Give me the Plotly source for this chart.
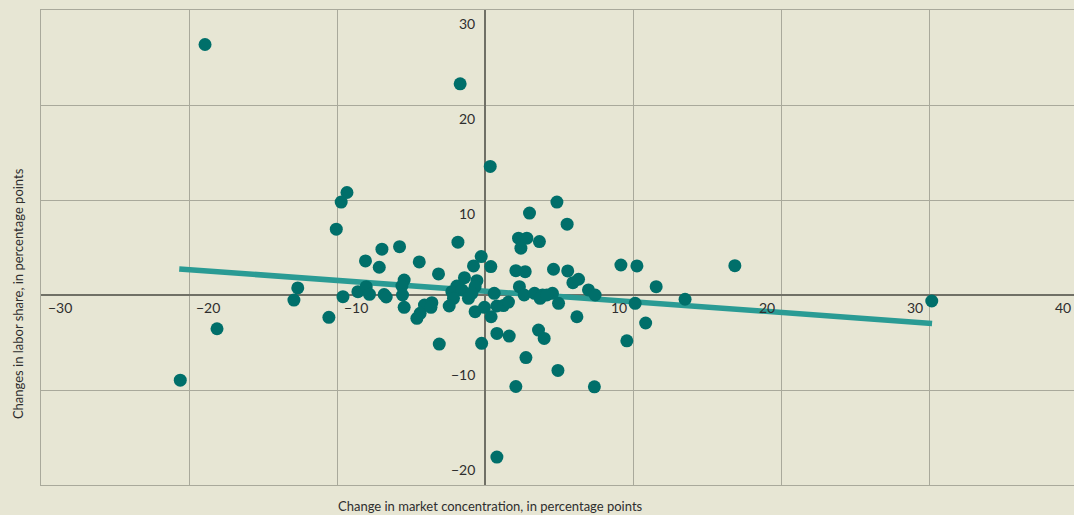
import plotly.graph_objects as go

# Change in market concentration (x) and change in labor share (y), percentage points
conc_change = [
    -18.93, -1.71, 0.32, -9.35, -9.74, -10.07, -20.60, -18.12, -12.67, -12.93,
    -10.57, -9.62, -8.10, -6.99, -5.80, -7.17, -4.47, -8.61, -8.05, -7.83,
    -6.84, -6.70, -5.49, -5.64, -5.60, -5.49, -4.12, -4.41, -4.63, -3.62,
    -3.68, -1.86, -0.29, -0.81, 0.36, -3.17, -1.42, -0.58, -1.93, -0.70,
    -2.27, -1.59, -0.92, -2.16, -1.15, -2.45, -0.70, -0.07, 0.38, 0.59,
    0.77, 1.21, 1.55, -3.12, -0.26, 0.77, 1.60, 2.73, 2.05, 4.89,
    3.58, 3.96, 2.97, 4.82, 5.51, 2.23, 2.79, 2.39, 3.64, 2.05,
    2.68, 4.59, 5.55, 5.90, 6.28, 2.29, 2.61, 3.31, 3.85, 3.69,
    4.52, 4.93, 4.14, 6.95, 7.40, 6.17, 9.14, 10.22, 11.52, 10.10,
    13.47, 10.81, 9.54, 7.35, 16.83, 30.12, 0.77,
]
labor_change = [
    26.37, 22.23, 13.53, 10.79, 9.78, 6.93, -8.97, -3.55, 0.74, -0.53,
    -2.35, -0.18, 3.59, 4.82, 5.09, 2.92, 3.48, 0.35, 0.88, 0.07,
    0.05, -0.21, 1.58, 0.95, 0.00, -1.30, -1.05, -1.93, -2.46, -0.81,
    -1.30, 5.56, 4.04, 3.06, 2.99, 2.22, 1.82, 1.51, 0.95, 0.88,
    0.35, 0.53, 0.18, -0.35, -0.35, -1.16, -1.76, -1.30, -2.29, 0.18,
    -1.16, -1.11, -0.74, -5.17, -5.09, -4.04, -4.32, -6.59, -9.63, -7.94,
    -3.69, -4.57, 8.62, 9.78, 7.46, 5.98, 5.98, 4.93, 5.62, 2.56,
    2.46, 2.71, 2.53, 1.30, 1.66, 0.88, 0.00, 0.18, 0.00, -0.35,
    0.18, -0.88, 0.00, 0.53, 0.00, -2.29, 3.16, 3.06, 0.88, -0.88,
    -0.45, -2.95, -4.82, -9.67, 3.09, -0.63, -17.06,
]

# Fitted trend line end points
trend_x = [-20.67, 30.14]
trend_y = [2.74, -2.99]

# Tick labels
x_ticks = [-30, -20, -10, 10, 20, 30, 40]
y_ticks = [-20, -10, 10, 20, 30]

X_MAX = 39.72

BG = "#e7e6d4"
GRID = "#a9a99b"
ZERO = "#707066"
DOT = "#006f6a"
TREND = "#2a9b94"
TXT = "#2e2e2e"
FONT = "Lato"

fig = go.Figure()
fig.add_trace(go.Scatter(
    x=trend_x, y=trend_y, mode="lines",
    line=dict(color=TREND, width=5.5), hoverinfo="skip", showlegend=False,
))
fig.add_trace(go.Scatter(
    x=conc_change, y=labor_change, mode="markers",
    marker=dict(color=DOT, size=13, line=dict(width=0)),
    showlegend=False,
))

def lab(v):
    return ("\u2212" + str(abs(v))) if v < 0 else str(v)

PX_PER_UNIT = 1033 / (X_MAX + 30)

annotations = []
for v in x_ticks:
    xv = min(v, X_MAX - 0.02)
    extra = (v - xv) * PX_PER_UNIT
    annotations.append(dict(
        x=xv, y=0, xref="x", yref="y", text=lab(v), showarrow=False,
        xanchor="left" if v < 0 else "right", yanchor="top",
        xshift=(5 if v < 0 else -5) + extra, yshift=-2,
        font=dict(family=FONT, size=14, color=TXT),
    ))
for v in y_ticks:
    annotations.append(dict(
        x=0, y=v, xref="x", yref="y", text=lab(v), showarrow=False,
        xanchor="right", yanchor="bottom" if v < 0 else "top",
        xshift=-8, yshift=5 if v < 0 else -3,
        font=dict(family=FONT, size=14, color=TXT),
    ))
annotations.append(dict(
    x=-0.0223, y=0.404, xref="paper", yref="paper", textangle=-90,
    text="Changes in labor share, in percentage points", showarrow=False,
    xanchor="center", yanchor="middle",
    font=dict(family=FONT, size=13, color=TXT),
))
annotations.append(dict(
    x=0.4347, y=-0.044, xref="paper", yref="paper",
    text="Change in market concentration, in percentage points", showarrow=False,
    xanchor="center", yanchor="middle",
    font=dict(family=FONT, size=13, color=TXT),
))

fig.update_layout(
    width=1074, height=515,
    margin=dict(l=41, r=0, t=10, b=30),
    paper_bgcolor=BG, plot_bgcolor=BG,
    annotations=annotations,
    xaxis=dict(
        range=[-30, X_MAX], tickvals=[-30, -20, -10, 0, 10, 20, 30, 40],
        showticklabels=False, showgrid=True, gridcolor=GRID, gridwidth=1.2,
        zeroline=True, zerolinecolor=ZERO, zerolinewidth=1.6,
        showline=True, linecolor=GRID, linewidth=1.2, mirror=True,
        ticks="", fixedrange=True,
    ),
    yaxis=dict(
        range=[-20, 30], tickvals=[-20, -10, 0, 10, 20, 30],
        showticklabels=False, showgrid=True, gridcolor=GRID, gridwidth=1.2,
        zeroline=True, zerolinecolor=ZERO, zerolinewidth=1.6,
        showline=True, linecolor=GRID, linewidth=1.2,
        ticks="", fixedrange=True,
    ),
)

fig.write_html(
    "out.html",
    config={"displayModeBar": False},
    post_script="document.body.style.margin='0';document.body.style.overflow='hidden';document.body.style.background='%s';" % BG,
)
